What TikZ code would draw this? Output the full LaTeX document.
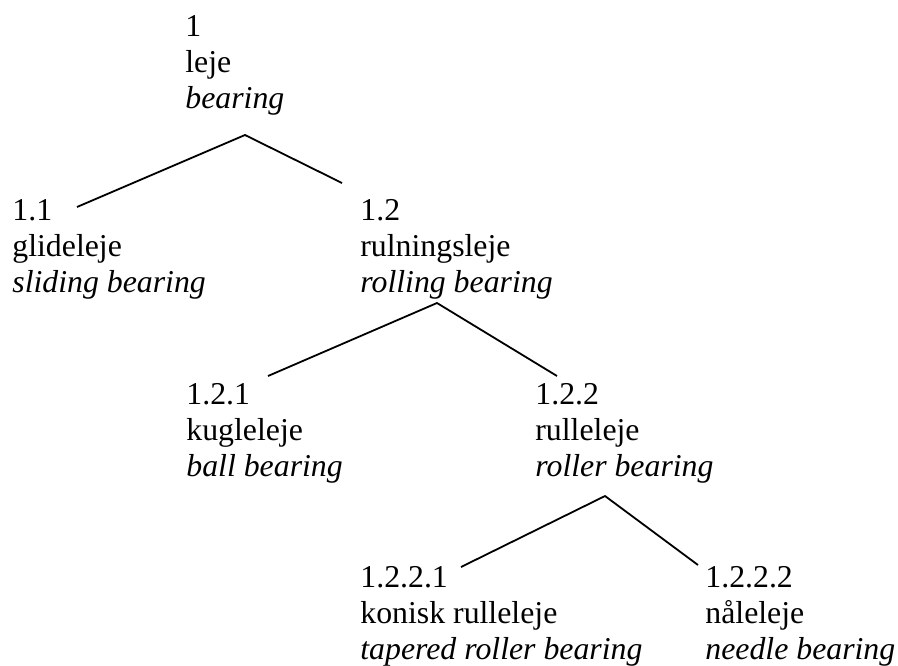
\documentclass[tikz,border=0pt]{standalone}
\usepackage{fontspec}
\setmainfont{Liberation Serif}
\usepackage{tikz}

\begin{document}
\begin{tikzpicture}[x=0.5pt, y=-0.5pt,
  term/.style={align=left, inner sep=0pt, anchor=base west,
    font=\fontsize{15.9}{18}\selectfont},
  branch/.style={line width=0.9pt}]
  \useasboundingbox (0,0) rectangle (898,665);

  % Begreber (anker = grundlinie af sidste linje)
  \node[term] (n1)    at (185,108) {1\\leje\\\textit{bearing}};
  \node[term] (n11)   at (12,292)  {1.1\\glideleje\\\textit{sliding bearing}};
  \node[term] (n12)   at (360,292) {1.2\\rulningsleje\\\textit{rolling bearing}};
  \node[term] (n121)  at (186,476) {1.2.1\\kugleleje\\\textit{ball bearing}};
  \node[term] (n122)  at (535,476) {1.2.2\\rulleleje\\\textit{roller bearing}};
  \node[term] (n1221) at (360,659) {1.2.2.1\\konisk rulleleje\\\textit{tapered roller bearing}};
  \node[term] (n1222) at (705,659) {1.2.2.2\\nåleleje\\\textit{needle bearing}};

  % Forgreninger
  \coordinate (t1)    at (245,135);
  \coordinate (e11)   at (77,207);
  \coordinate (e12)   at (342,183);
  \coordinate (t12)   at (437,303);
  \coordinate (e121)  at (268,376);
  \coordinate (e122)  at (557,376);
  \coordinate (t122)  at (605,496);
  \coordinate (e1221) at (461,567);
  \coordinate (e1222) at (698,565);

  \draw[branch] (e11) -- (t1) -- (e12);
  \draw[branch] (e121) -- (t12) -- (e122);
  \draw[branch] (e1221) -- (t122) -- (e1222);
\end{tikzpicture}
\end{document}
